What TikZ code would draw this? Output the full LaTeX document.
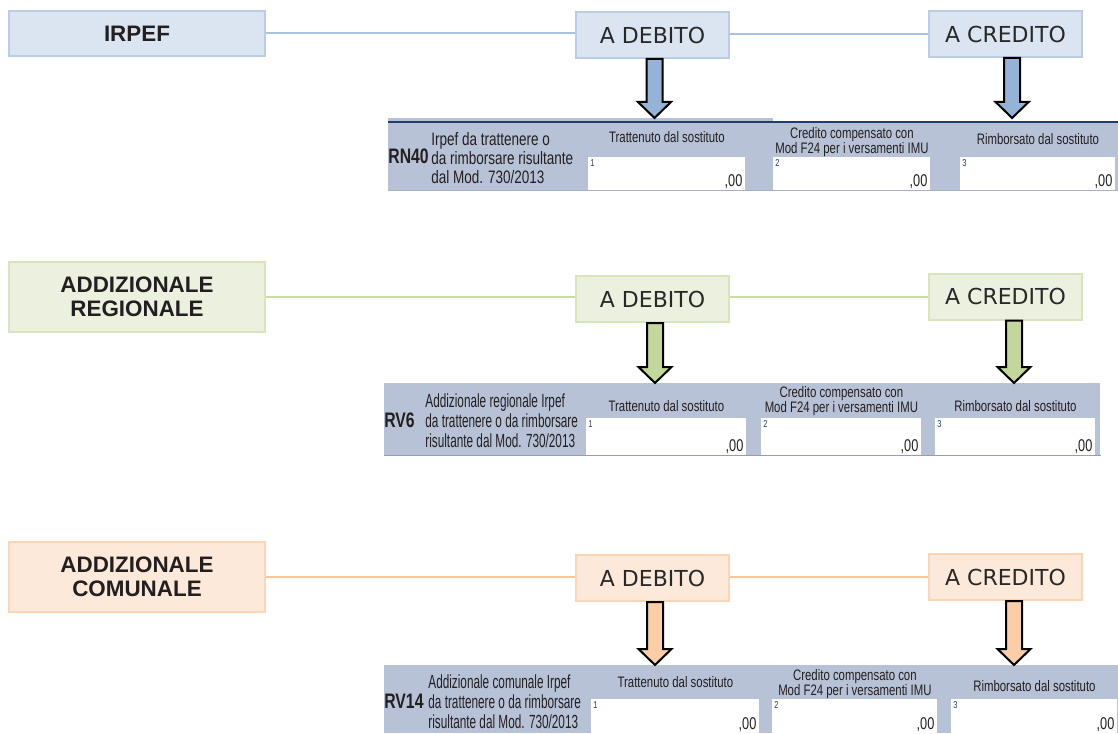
\documentclass[tikz,border=0pt]{standalone}
\usepackage{fontspec}
\setmainfont{DejaVu Sans}
\newfontfamily\titlefont{Liberation Sans}
\newfontfamily\formfont[FakeStretch=0.75]{Liberation Sans}
\newfontfamily\descfont[FakeStretch=0.62]{Liberation Sans}
\usepackage{tikz}
\usetikzlibrary{positioning}
\usetikzlibrary{calc}

\definecolor{irpefFill}{RGB}{219,229,241}
\definecolor{irpefLine}{RGB}{185,205,229}
\definecolor{irpefWire}{RGB}{167,194,226}
\definecolor{irpefArrow}{RGB}{149,179,215}
\definecolor{regFill}{RGB}{235,241,222}
\definecolor{regLine}{RGB}{215,228,189}
\definecolor{regWire}{RGB}{200,220,160}
\definecolor{regArrow}{RGB}{195,214,155}
\definecolor{comFill}{RGB}{253,233,217}
\definecolor{comLine}{RGB}{252,213,181}
\definecolor{comWire}{RGB}{250,197,155}
\definecolor{comArrow}{RGB}{251,206,168}
\definecolor{formGray}{RGB}{184,194,214}
\definecolor{formDark}{RGB}{35,60,105}
\definecolor{textDark}{RGB}{35,31,32}
\definecolor{boxText}{RGB}{40,40,40}

% block arrow from a box down to the top of a form band
\newcommand{\fatarrow}[4]{%
  \draw[arrowline, fill=#3] let \p1=($(#1.south)+(#4,0)$), \p2=(#2.north) in
    (\x1-4pt,\y1) -- (\x1+4pt,\y1) -- (\x1+4pt,\y2+8pt) -- (\x1+8.25pt,\y2+8pt)
    -- (\x1,\y2) -- (\x1-8.25pt,\y2+8pt) -- (\x1-4pt,\y2+8pt) -- cycle;
}

\begin{document}
\begin{tikzpicture}[x=0.5pt, y=-0.5pt,
                titlebox/.style={rectangle, draw, line width=1pt, minimum width=128pt, align=center, text=textDark, font=\titlefont\bfseries\fontsize{11.2}{12}\selectfont},
                sidebox/.style={rectangle, draw, line width=1pt, minimum width=76.5pt, minimum height=23pt, text=boxText, font=\fontsize{11}{13}\selectfont},
                wire/.style={line width=1pt},
                formband/.style={rectangle, fill=formGray, inner sep=0, anchor=north west},
                cellbox/.style={rectangle, fill=white, inner sep=0, anchor=north west, minimum height=16.5pt},
                cellcaption/.style={inner sep=0, align=center, text=textDark, font=\formfont\fontsize{7.6}{7.4}\selectfont},
                rowdesc/.style={inner sep=0, align=left, anchor=west, text=textDark, font=\descfont\fontsize{9.5}{10}\selectfont},
                rowcode/.style={inner sep=0, anchor=base west, text=textDark, font=\formfont\bfseries\fontsize{10.5}{12}\selectfont},
                cellnum/.style={inner sep=1pt, anchor=north west, text=formDark, font=\formfont\fontsize{5}{5}\selectfont},
                cellzero/.style={inner sep=0pt, anchor=base east, xshift=-1.5pt, yshift=2pt, text=textDark, font=\formfont\fontsize{8.5}{8.5}\selectfont},
                arrowline/.style={draw=black, line width=1pt, line join=miter},
            ]
            \useasboundingbox (0,0) rectangle (1118,733);

            % IRPEF
            \node[titlebox, fill=irpefFill, draw=irpefLine, minimum height=22.5pt] (irpef_title) at (137,33.5) {IRPEF};
            \node[sidebox, fill=irpefFill, draw=irpefLine] (irpef_debito) at (652.5,35) {A DEBITO};
            \node[sidebox, fill=irpefFill, draw=irpefLine] (irpef_credito) at (1005.5,34) {A CREDITO};

            \node[formband, minimum width=365pt, minimum height=36pt] (irpef_form) at (388,118) {};
            \fill[white] (773,117) rectangle (1118,121);
            \draw[formDark, line width=1pt] (irpef_form.north west) ++(0,4) -- ++(730,0);
            \draw[formDark!40, line width=0.5pt] (irpef_form.south west) -- (irpef_form.south east);
            \node[cellbox, minimum width=78.5pt] (irpef_c1) at (588,157) {};
            \node[cellbox, minimum width=78.5pt] (irpef_c2) at (773,157) {};
            \node[cellbox, minimum width=77.5pt] (irpef_c3) at (960,157) {};
            \node[rowcode] (irpef_code) at (388,163) {RN40};
            \node[rowdesc, font=\formfont\fontsize{9}{9.3}\selectfont] (irpef_desc) at (431,158) {Irpef da trattenere o\\da rimborsare risultante\\dal Mod. 730/2013};
            \node[cellcaption] (irpef_cap1) [above=7pt of irpef_c1] {Trattenuto dal sostituto};
            \node[cellcaption] (irpef_cap2) [above=0pt of irpef_c2] {Credito compensato con\\Mod F24 per i versamenti IMU};
            \node[cellcaption] (irpef_cap3) [above=6pt of irpef_c3] {Rimborsato dal sostituto};
            \node[cellnum] (irpef_n1) at (irpef_c1.north west) {1};
            \node[cellnum] (irpef_n2) at (irpef_c2.north west) {2};
            \node[cellnum] (irpef_n3) at (irpef_c3.north west) {3};
            \node[cellzero] (irpef_z1) at (irpef_c1.south east) {,00};
            \node[cellzero] (irpef_z2) at (irpef_c2.south east) {,00};
            \node[cellzero] (irpef_z3) at (irpef_c3.south east) {,00};

            % ADDIZIONALE REGIONALE
            \node[titlebox, fill=regFill, draw=regLine, minimum height=35pt] (reg_title) at (137,297) {ADDIZIONALE\\REGIONALE};
            \node[sidebox, fill=regFill, draw=regLine] (reg_debito) at (652.5,299) {A DEBITO};
            \node[sidebox, fill=regFill, draw=regLine] (reg_credito) at (1005.5,296.5) {A CREDITO};

            \node[formband, minimum width=358pt, minimum height=36pt] (reg_form) at (384,383) {};
            \draw[formDark!50, line width=0.6pt] (reg_form.south west) -- (reg_form.south east);
            \node[cellbox, minimum width=80pt, minimum height=18.5pt] (reg_c1) at (586,418) {};
            \node[cellbox, minimum width=80pt, minimum height=18.5pt] (reg_c2) at (761,418) {};
            \node[cellbox, minimum width=80pt, minimum height=18.5pt] (reg_c3) at (935,418) {};
            \node[rowcode] (reg_code) at (384,427) {RV6};
            \node[rowdesc] (reg_desc) at (425,421) {Addizionale regionale Irpef\\da trattenere o da rimborsare\\risultante dal Mod. 730/2013};
            \node[cellcaption] (reg_cap1) [above=3pt of reg_c1] {Trattenuto dal sostituto};
            \node[cellcaption] (reg_cap2) [above=1pt of reg_c2] {Credito compensato con\\Mod F24 per i versamenti IMU};
            \node[cellcaption] (reg_cap3) [above=3pt of reg_c3] {Rimborsato dal sostituto};
            \node[cellnum] (reg_n1) at (reg_c1.north west) {1};
            \node[cellnum] (reg_n2) at (reg_c2.north west) {2};
            \node[cellnum] (reg_n3) at (reg_c3.north west) {3};
            \node[cellzero] (reg_z1) at (reg_c1.south east) {,00};
            \node[cellzero] (reg_z2) at (reg_c2.south east) {,00};
            \node[cellzero] (reg_z3) at (reg_c3.south east) {,00};

            % ADDIZIONALE COMUNALE
            \node[titlebox, fill=comFill, draw=comLine, minimum height=35pt] (com_title) at (137,577) {ADDIZIONALE\\COMUNALE};
            \node[sidebox, fill=comFill, draw=comLine] (com_debito) at (652.5,578) {A DEBITO};
            \node[sidebox, fill=comFill, draw=comLine] (com_credito) at (1005.5,577) {A CREDITO};

            \node[formband, minimum width=367pt, minimum height=34pt] (com_form) at (384,665) {};
            \node[cellbox, minimum width=84pt, minimum height=17pt] (com_c1) at (591,699) {};
            \node[cellbox, minimum width=82.5pt, minimum height=17pt] (com_c2) at (772,699) {};
            \node[cellbox, minimum width=83pt, minimum height=17pt] (com_c3) at (951,699) {};
            \node[rowcode] (com_code) at (384,708) {RV14};
            \node[rowdesc] (com_desc) at (428,702) {Addizionale comunale Irpef\\da trattenere o da rimborsare\\risultante dal Mod. 730/2013};
            \node[cellcaption] (com_cap1) [above=5.5pt of com_c1] {Trattenuto dal sostituto};
            \node[cellcaption] (com_cap2) [above=0pt of com_c2] {Credito compensato con\\Mod F24 per i versamenti IMU};
            \node[cellcaption] (com_cap3) [above=3.5pt of com_c3] {Rimborsato dal sostituto};
            \node[cellnum] (com_n1) at (com_c1.north west) {1};
            \node[cellnum] (com_n2) at (com_c2.north west) {2};
            \node[cellnum] (com_n3) at (com_c3.north west) {3};
            \node[cellzero] (com_z1) at (com_c1.south east) {,00};
            \node[cellzero] (com_z2) at (com_c2.south east) {,00};
            \node[cellzero] (com_z3) at (com_c3.south east) {,00};

            % Lines
            \draw[wire, irpefWire] (irpef_title.east) -- (irpef_title.east -| irpef_debito.west);
            \draw[wire, irpefWire] (irpef_credito.west -| irpef_debito.east) -- (irpef_credito.west);
            \draw[wire, regWire] (reg_title.east) -- (reg_title.east -| reg_debito.west);
            \draw[wire, regWire] (reg_credito.west -| reg_debito.east) -- (reg_credito.west);
            \draw[wire, comWire] (com_title.east) -- (com_title.east -| com_debito.west);
            \draw[wire, comWire] (com_credito.west -| com_debito.east) -- (com_credito.west);

            % Arrows
            \fatarrow{irpef_debito}{irpef_form}{irpefArrow}{1pt}
            \fatarrow{irpef_credito}{irpef_form}{irpefArrow}{3.3pt}
            \fatarrow{reg_debito}{reg_form}{regArrow}{1.25pt}
            \fatarrow{reg_credito}{reg_form}{regArrow}{4.25pt}
            \fatarrow{com_debito}{com_form}{comArrow}{1.25pt}
            \fatarrow{com_credito}{com_form}{comArrow}{4.25pt}
        \end{tikzpicture}
\end{document}
